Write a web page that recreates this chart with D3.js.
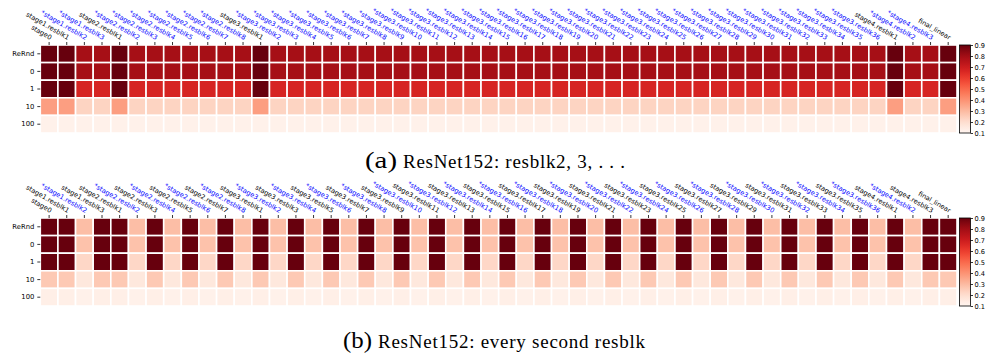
<!DOCTYPE html>
<html>
<head>
<meta charset="utf-8">
<script src="https://cdn.jsdelivr.net/npm/d3@7/dist/d3.min.js"></script>
<style>
  html, body { margin: 0; padding: 0; background: #fff; }
  svg { display: block; }
</style>
</head>
<body>
<svg id="fig" width="989" height="360"></svg>
<script>
// Row labels: checkpoint used when re-initialising (ReRnd = re-randomise)
const rows = ["ReRnd", "0", "1", "10", "100"];

// Column labels for (a); "*" marks the re-initialised residual blocks
const layersA = [
  "stage0", "stage1.resblk1", "*stage1.resblk2", "*stage1.resblk3",
  "stage2.resblk1", "*stage2.resblk2", "*stage2.resblk3", "*stage2.resblk4",
  "*stage2.resblk5", "*stage2.resblk6", "*stage2.resblk7", "*stage2.resblk8",
  "stage3.resblk1", "*stage3.resblk2", "*stage3.resblk3", "*stage3.resblk4",
  "*stage3.resblk5", "*stage3.resblk6", "*stage3.resblk7", "*stage3.resblk8",
  "*stage3.resblk9", "*stage3.resblk10", "*stage3.resblk11", "*stage3.resblk12",
  "*stage3.resblk13", "*stage3.resblk14", "*stage3.resblk15", "*stage3.resblk16",
  "*stage3.resblk17", "*stage3.resblk18", "*stage3.resblk19", "*stage3.resblk20",
  "*stage3.resblk21", "*stage3.resblk22", "*stage3.resblk23", "*stage3.resblk24",
  "*stage3.resblk25", "*stage3.resblk26", "*stage3.resblk27", "*stage3.resblk28",
  "*stage3.resblk29", "*stage3.resblk30", "*stage3.resblk31", "*stage3.resblk32",
  "*stage3.resblk33", "*stage3.resblk34", "*stage3.resblk35", "*stage3.resblk36",
  "stage4.resblk1", "*stage4.resblk2", "*stage4.resblk3", "final_linear"
];

// Column labels for (b): every second residual block is re-initialised
const layersB = [
  "stage0", "stage1.resblk1", "*stage1.resblk2", "stage1.resblk3",
  "stage2.resblk1", "*stage2.resblk2", "stage2.resblk3", "*stage2.resblk4",
  "stage2.resblk5", "*stage2.resblk6", "stage2.resblk7", "*stage2.resblk8",
  "stage3.resblk1", "*stage3.resblk2", "stage3.resblk3", "*stage3.resblk4",
  "stage3.resblk5", "*stage3.resblk6", "stage3.resblk7", "*stage3.resblk8",
  "stage3.resblk9", "*stage3.resblk10", "stage3.resblk11", "*stage3.resblk12",
  "stage3.resblk13", "*stage3.resblk14", "stage3.resblk15", "*stage3.resblk16",
  "stage3.resblk17", "*stage3.resblk18", "stage3.resblk19", "*stage3.resblk20",
  "stage3.resblk21", "*stage3.resblk22", "stage3.resblk23", "*stage3.resblk24",
  "stage3.resblk25", "*stage3.resblk26", "stage3.resblk27", "*stage3.resblk28",
  "stage3.resblk29", "*stage3.resblk30", "stage3.resblk31", "*stage3.resblk32",
  "stage3.resblk33", "*stage3.resblk34", "stage3.resblk35", "*stage3.resblk36",
  "stage4.resblk1", "*stage4.resblk2", "stage4.resblk3", "final_linear"
];

// (a) test error per layer, one array per row
const errA_ReRnd = [
  0.90, 0.90, 0.79, 0.79, 0.90, 0.79, 0.79, 0.79, 0.79, 0.79, 0.79, 0.79, 0.90,
  0.79, 0.79, 0.79, 0.79, 0.79, 0.79, 0.79, 0.79, 0.79, 0.79, 0.79, 0.79, 0.79,
  0.79, 0.79, 0.79, 0.79, 0.79, 0.79, 0.79, 0.79, 0.79, 0.79, 0.79, 0.79, 0.79,
  0.79, 0.79, 0.79, 0.79, 0.79, 0.79, 0.79, 0.79, 0.79, 0.90, 0.79, 0.79, 0.90
];
const errA_0 = [
  0.90, 0.90, 0.79, 0.79, 0.90, 0.79, 0.79, 0.79, 0.79, 0.79, 0.79, 0.79, 0.90,
  0.79, 0.79, 0.79, 0.79, 0.79, 0.79, 0.79, 0.79, 0.79, 0.79, 0.79, 0.79, 0.79,
  0.79, 0.79, 0.79, 0.79, 0.79, 0.79, 0.79, 0.79, 0.79, 0.79, 0.79, 0.79, 0.79,
  0.79, 0.79, 0.79, 0.79, 0.79, 0.79, 0.79, 0.79, 0.79, 0.90, 0.79, 0.79, 0.90
];
const errA_1 = [
  0.90, 0.90, 0.67, 0.67, 0.90, 0.67, 0.67, 0.67, 0.67, 0.67, 0.67, 0.67, 0.90,
  0.67, 0.67, 0.67, 0.67, 0.67, 0.67, 0.67, 0.67, 0.67, 0.67, 0.67, 0.67, 0.67,
  0.67, 0.67, 0.67, 0.67, 0.67, 0.67, 0.67, 0.67, 0.67, 0.67, 0.67, 0.67, 0.67,
  0.67, 0.67, 0.67, 0.67, 0.67, 0.67, 0.67, 0.67, 0.67, 0.90, 0.67, 0.67, 0.90
];
const errA_10 = [
  0.37, 0.37, 0.23, 0.23, 0.37, 0.23, 0.23, 0.23, 0.23, 0.23, 0.23, 0.23, 0.37,
  0.23, 0.23, 0.23, 0.23, 0.23, 0.23, 0.23, 0.23, 0.23, 0.23, 0.23, 0.23, 0.23,
  0.23, 0.23, 0.23, 0.23, 0.23, 0.23, 0.23, 0.23, 0.23, 0.23, 0.23, 0.23, 0.23,
  0.23, 0.23, 0.23, 0.23, 0.23, 0.23, 0.23, 0.23, 0.23, 0.37, 0.23, 0.23, 0.37
];
const errA_100 = [
  0.12, 0.12, 0.12, 0.12, 0.12, 0.12, 0.12, 0.12, 0.12, 0.12, 0.12, 0.12, 0.12,
  0.12, 0.12, 0.12, 0.12, 0.12, 0.12, 0.12, 0.12, 0.12, 0.12, 0.12, 0.12, 0.12,
  0.12, 0.12, 0.12, 0.12, 0.12, 0.12, 0.12, 0.12, 0.12, 0.12, 0.12, 0.12, 0.12,
  0.12, 0.12, 0.12, 0.12, 0.12, 0.12, 0.12, 0.12, 0.12, 0.12, 0.12, 0.12, 0.12
];

// (b) test error per layer, one array per row
const errB_ReRnd = [
  0.90, 0.90, 0.29, 0.90, 0.90, 0.29, 0.90, 0.29, 0.90, 0.29, 0.90, 0.29, 0.90,
  0.29, 0.90, 0.29, 0.90, 0.29, 0.90, 0.29, 0.90, 0.29, 0.90, 0.29, 0.90, 0.29,
  0.90, 0.29, 0.90, 0.29, 0.90, 0.29, 0.90, 0.29, 0.90, 0.29, 0.90, 0.29, 0.90,
  0.29, 0.90, 0.29, 0.90, 0.29, 0.90, 0.29, 0.90, 0.29, 0.90, 0.29, 0.90, 0.90
];
const errB_0 = [
  0.90, 0.90, 0.28, 0.90, 0.90, 0.28, 0.90, 0.28, 0.90, 0.28, 0.90, 0.28, 0.90,
  0.28, 0.90, 0.28, 0.90, 0.28, 0.90, 0.28, 0.90, 0.28, 0.90, 0.28, 0.90, 0.28,
  0.90, 0.28, 0.90, 0.28, 0.90, 0.28, 0.90, 0.28, 0.90, 0.28, 0.90, 0.28, 0.90,
  0.28, 0.90, 0.28, 0.90, 0.28, 0.90, 0.28, 0.90, 0.28, 0.90, 0.28, 0.90, 0.90
];
const errB_1 = [
  0.90, 0.90, 0.22, 0.90, 0.90, 0.22, 0.90, 0.22, 0.90, 0.22, 0.90, 0.22, 0.90,
  0.22, 0.90, 0.22, 0.90, 0.22, 0.90, 0.22, 0.90, 0.22, 0.90, 0.22, 0.90, 0.22,
  0.90, 0.22, 0.90, 0.22, 0.90, 0.22, 0.90, 0.22, 0.90, 0.22, 0.90, 0.22, 0.90,
  0.22, 0.90, 0.22, 0.90, 0.22, 0.90, 0.22, 0.90, 0.22, 0.90, 0.22, 0.90, 0.90
];
const errB_10 = [
  0.26, 0.26, 0.16, 0.26, 0.26, 0.16, 0.26, 0.16, 0.26, 0.16, 0.26, 0.16, 0.26,
  0.16, 0.26, 0.16, 0.26, 0.16, 0.26, 0.16, 0.26, 0.16, 0.26, 0.16, 0.26, 0.16,
  0.26, 0.16, 0.26, 0.16, 0.26, 0.16, 0.26, 0.16, 0.26, 0.16, 0.26, 0.16, 0.26,
  0.16, 0.26, 0.16, 0.26, 0.16, 0.26, 0.16, 0.26, 0.16, 0.26, 0.16, 0.26, 0.26
];
const errB_100 = [
  0.13, 0.13, 0.12, 0.13, 0.13, 0.12, 0.13, 0.12, 0.13, 0.12, 0.13, 0.12, 0.13,
  0.12, 0.13, 0.12, 0.13, 0.12, 0.13, 0.12, 0.13, 0.12, 0.13, 0.12, 0.13, 0.12,
  0.13, 0.12, 0.13, 0.12, 0.13, 0.12, 0.13, 0.12, 0.13, 0.12, 0.13, 0.12, 0.13,
  0.12, 0.13, 0.12, 0.13, 0.12, 0.13, 0.12, 0.13, 0.12, 0.13, 0.12, 0.13, 0.13
];

// Colour bar ticks
const colorTicks = [0.1, 0.2, 0.3, 0.4, 0.5, 0.6, 0.7, 0.8, 0.9];

const svg = d3.select("#fig");
const color = d3.scaleSequential(d3.interpolateReds).domain([0.1, 0.9]);
const tickFont = "DejaVu Sans, sans-serif";

// vertical gradient shared by both colour bars
const defs = svg.append("defs");
const grad = defs.append("linearGradient")
  .attr("id", "redsBar").attr("x1", 0).attr("y1", 1).attr("x2", 0).attr("y2", 0);
d3.range(0, 1.0001, 0.05).forEach(t => {
  grad.append("stop").attr("offset", t).attr("stop-color", d3.interpolateReds(t));
});

function drawHeatmap(top, layers, matrix, caption) {
  const x = d3.scaleBand().domain(d3.range(layers.length)).range([40.3, 957]);
  const y = d3.scaleBand().domain(rows).range([top, top + 88]);
  const g = svg.append("g");

  const cells = [];
  rows.forEach((r, i) => matrix[i].forEach((v, j) => cells.push({ r, j, v })));

  g.selectAll("rect.cell").data(cells).join("rect")
    .attr("class", "cell")
    .attr("x", d => x(d.j))
    .attr("y", d => y(d.r))
    .attr("width", x.bandwidth())
    .attr("height", y.bandwidth())
    .attr("fill", d => color(d.v))
    .attr("stroke", "#fff")
    .attr("stroke-width", 1.6);

  // top axis with rotated layer names
  const xAxis = g.append("g")
    .attr("transform", `translate(0,${top})`)
    .call(d3.axisTop(x).tickSize(3).tickSizeOuter(0).tickFormat(i => layers[i]));
  xAxis.select(".domain").remove();
  xAxis.selectAll(".tick line").attr("stroke", "#000").attr("stroke-width", 0.8);
  xAxis.selectAll(".tick text")
    .attr("font-family", tickFont)
    .attr("font-size", 6.6)
    .attr("fill", i => layers[i].startsWith("*") ? "#0000ff" : "#000")
    .attr("text-anchor", "end")
    .attr("x", 1)
    .attr("y", -5)
    .attr("dy", 0)
    .attr("transform", "rotate(30 1 -5)");

  // left axis with row labels
  const yAxis = g.append("g")
    .attr("transform", "translate(40.3,0)")
    .call(d3.axisLeft(y).tickSize(3).tickSizeOuter(0));
  yAxis.select(".domain").remove();
  yAxis.selectAll(".tick line").attr("stroke", "#000").attr("stroke-width", 0.8);
  yAxis.selectAll(".tick text")
    .attr("font-family", tickFont)
    .attr("font-size", 6.8)
    .attr("fill", "#000");

  // colour bar
  const cb = d3.scaleLinear().domain([0.1, 0.9]).range([top + 88, top]);
  g.append("rect")
    .attr("x", 959.5).attr("y", top).attr("width", 11).attr("height", 88)
    .attr("fill", "url(#redsBar)")
    .attr("stroke", "#000").attr("stroke-width", 0.8);
  const cAxis = g.append("g")
    .attr("transform", "translate(970.5,0)")
    .call(d3.axisRight(cb).tickValues(colorTicks).tickSize(2.5).tickFormat(d3.format(".1f")));
  cAxis.select(".domain").remove();
  cAxis.selectAll(".tick line").attr("stroke", "#000").attr("stroke-width", 0.8);
  cAxis.selectAll(".tick text")
    .attr("font-family", tickFont)
    .attr("font-size", 6.6)
    .attr("x", 4)
    .attr("fill", "#000");

  // sub-figure caption: tag and body, each fitted to its own width
  svg.append("text")
    .attr("x", caption.tagX).attr("y", caption.y)
    .attr("font-family", "Liberation Serif, Times New Roman, serif")
    .attr("font-size", 23)
    .attr("textLength", caption.tagW)
    .attr("lengthAdjust", "spacingAndGlyphs")
    .attr("fill", "#000")
    .text(caption.tag);
  svg.append("text")
    .attr("x", caption.bodyX).attr("y", caption.y)
    .attr("font-family", "Liberation Serif, Times New Roman, serif")
    .attr("font-size", 19)
    .attr("textLength", caption.bodyW)
    .attr("lengthAdjust", "spacing")
    .attr("fill", "#000")
    .text(caption.text);
}

drawHeatmap(45, layersA, [errA_ReRnd, errA_0, errA_1, errA_10, errA_100],
  { tagX: 365, tagW: 32, bodyX: 403, bodyW: 222, y: 168,
    tag: "(a)", text: "ResNet152: resblk2, 3, . . ." });
drawHeatmap(218, layersB, [errB_ReRnd, errB_0, errB_1, errB_10, errB_100],
  { tagX: 343, tagW: 29, bodyX: 378, bodyW: 267, y: 348,
    tag: "(b)", text: "ResNet152: every second resblk" });
</script>
</body>
</html>
